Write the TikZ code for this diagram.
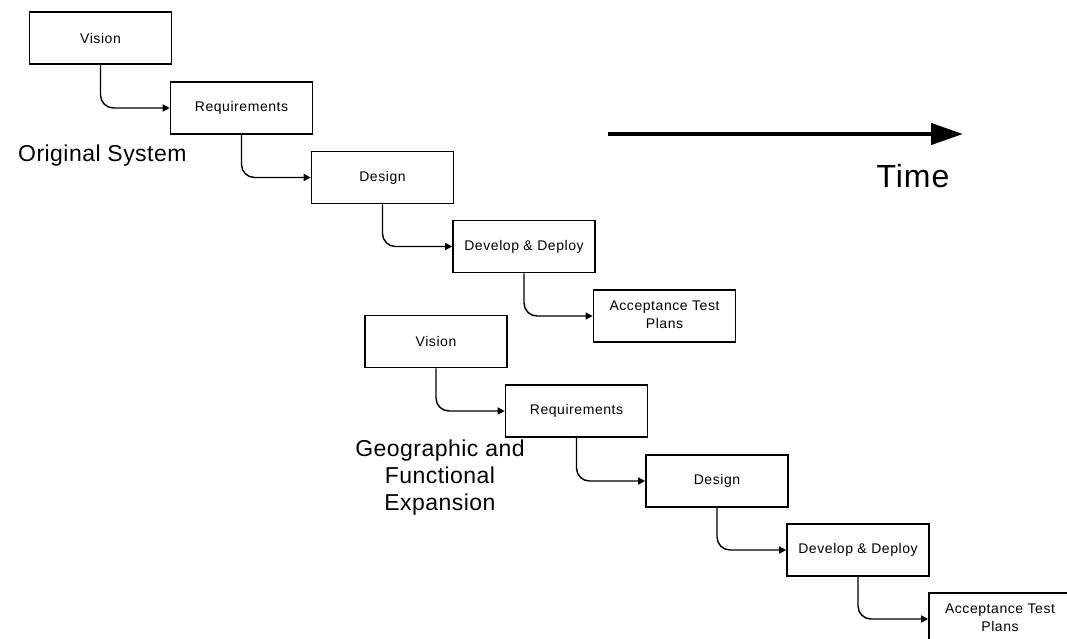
\documentclass[tikz,border=0pt]{standalone}
\usepackage{fontspec}
\setmainfont{Liberation Sans}
\usetikzlibrary{arrows.meta}
\tikzset{
  stage/.style={draw=black, line width=1.6pt, minimum width=142pt, minimum height=52pt, inner sep=0pt,
    font=\fontsize{14}{17.5}\selectfont\addfontfeature{LetterSpace=4}, align=center},
  conn/.style={draw=black, line width=1.4pt, rounded corners=13pt, -{Triangle[length=7pt,width=7pt]}},
  biglabel/.style={font=\fontsize{23}{27}\selectfont\addfontfeature{LetterSpace=2}, inner sep=0pt, align=center},
}
\begin{document}
\begin{tikzpicture}[x=1pt,y=-1pt]
\useasboundingbox (0,0) rectangle (1067,638);
\fill[white] (0,0) rectangle (1067,638);
\clip (0,0) rectangle (1067,638);
% group 1
\node[stage] (v1) at (100.5,38) {Vision};
\node[stage] (r1) at (241.5,108) {Requirements};
\node[stage] (d1) at (382.5,177.5) {Design};
\node[stage] (dd1) at (524,246.5) {Develop \& Deploy};
\node[stage] (a1) at (664.5,316) {\raisebox{2pt}{\begin{tabular}{@{}c@{}}Acceptance Test\\Plans\end{tabular}}};
\draw[conn] (v1.south) |- (r1.west);
\draw[conn] (r1.south) |- (d1.west);
\draw[conn] (d1.south) |- (dd1.west);
\draw[conn] (dd1.south) |- (a1.west);
% group 2
\node[stage] (v2) at (436,341.5) {Vision};
\node[stage] (r2) at (576.5,411) {Requirements};
\node[stage] (d2) at (717,481) {Design};
\node[stage] (dd2) at (858,550) {Develop \& Deploy};
\node[stage] (a2) at (1000,619) {\raisebox{2pt}{\begin{tabular}{@{}c@{}}Acceptance Test\\Plans\end{tabular}}};
\draw[conn] (v2.south) |- (r2.west);
\draw[conn] (r2.south) |- (d2.west);
\draw[conn] (d2.south) |- (dd2.west);
\draw[conn] (dd2.south) |- (a2.west);
% labels
\node[biglabel, anchor=west] (orig) at (18,156) {Original System};
\node[biglabel] (geo) at (440,478) {Geographic and\\Functional\\Expansion};
% time arrow
\coordinate (ts) at (608,134);
\coordinate (te) at (963,134);
\draw[line width=4.5pt, -{Triangle[length=32pt,width=21pt]}] (ts) -- (te);
\node[font=\fontsize{32}{36}\selectfont\addfontfeature{LetterSpace=3}, inner sep=0pt] (time) at (913,176) {Time};
\end{tikzpicture}
\end{document}
